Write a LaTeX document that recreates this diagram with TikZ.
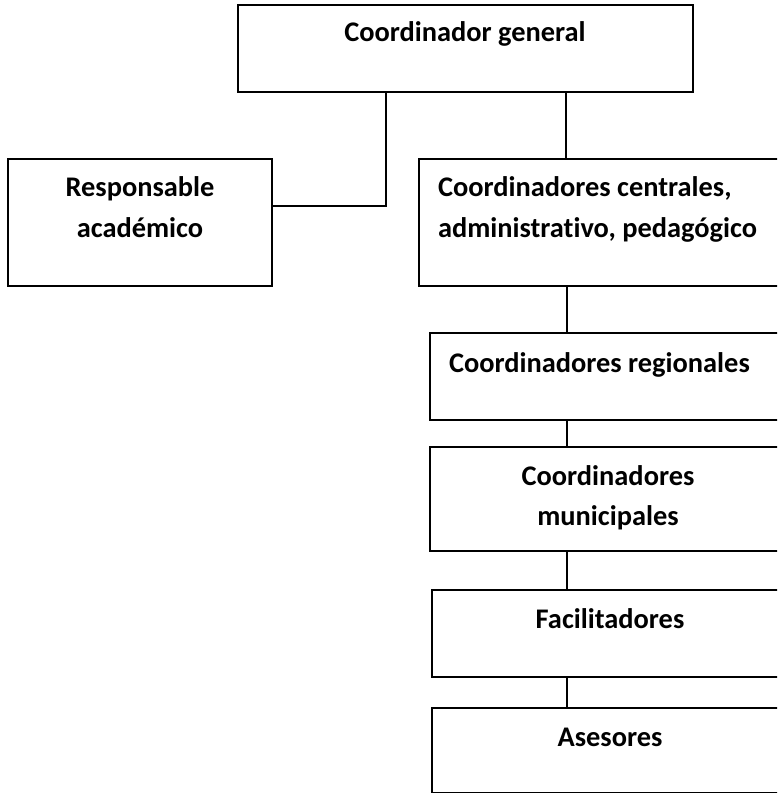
\documentclass[tikz,border=0pt]{standalone}
\usepackage{fontspec}
\setmainfont{Carlito}[Ligatures={NoCommon,NoContextual}]
\begin{document}
\begin{tikzpicture}[x=1pt,y=-1pt,
  box/.style={draw=black, line width=1.8pt, rectangle, inner sep=0pt, outer sep=0pt, anchor=north west},
  lbl/.style={inner sep=0pt, outer sep=0pt, font=\fontsize{28.4}{40}\selectfont\bfseries, text=black},
  link/.style={draw=black, line width=1.4pt}]
\clip (0,0) rectangle (777,794);
\fill[white] (0,0) rectangle (777,794);
% boxes
\node[box, minimum width=455pt, minimum height=87pt] (cg) at (238,5) {};
\node[box, minimum width=264pt, minimum height=127pt] (ra) at (8,159) {};
\node[box, minimum width=380pt, minimum height=127pt] (cc) at (419,159) {};
\node[box, minimum width=370pt, minimum height=87pt] (cr) at (430,333) {};
\node[box, minimum width=370pt, minimum height=104pt] (cm) at (430,447) {};
\node[box, minimum width=370pt, minimum height=87pt] (fa) at (432,590) {};
\node[box, minimum width=370pt, minimum height=84.5pt] (as) at (432,708) {};
% texts
\node[lbl, anchor=base] (tcg) at (465,42) {Coordinador general};
\node[lbl, anchor=base] (tra) at (140,197) {\begin{tabular}[t]{@{}c@{}}Responsable\\acad\'emico\end{tabular}};
\node[lbl, anchor=base west] (tcc) at (438,197) {\begin{tabular}[t]{@{}l@{}}Coordinadores centrales,\\administrativo, pedag\'ogico\end{tabular}};
\node[lbl, anchor=base west] (tcr) at (449,372) {Coordinadores regionales};
\node[lbl, anchor=base] (tcm) at (608,485) {\begin{tabular}[t]{@{}c@{}}Coordinadores\\municipales\end{tabular}};
\node[lbl, anchor=base] (tfa) at (610,628) {Facilitadores};
\node[lbl, anchor=base] (tas) at (610,746) {Asesores};
% connectors
\coordinate (j1) at (386,206);
\coordinate (x2) at (566,0);
\coordinate (x3) at (567,0);
\draw[link] (cg.south -| j1) -- (j1) -- (ra.east |- j1);
\draw[link] (cg.south -| x2) -- (cc.north -| x2);
\draw[link] (cc.south -| x3) -- (cr.north -| x3);
\draw[link] (cr.south -| x3) -- (cm.north -| x3);
\draw[link] (cm.south -| x3) -- (fa.north -| x3);
\draw[link] (fa.south -| x3) -- (as.north -| x3);
\end{tikzpicture}
\end{document}
